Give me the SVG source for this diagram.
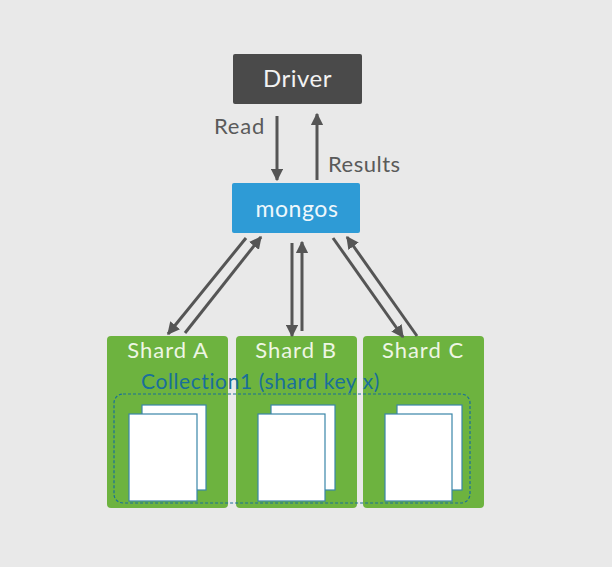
<svg xmlns="http://www.w3.org/2000/svg" width="612" height="567" viewBox="0 0 612 567">
<defs>
<marker id="ah" viewBox="0 0 10 10" refX="9" refY="5" markerWidth="4.2" markerHeight="4.2" orient="auto" markerUnits="strokeWidth">
<path d="M0,0 L10,5 L0,10 z" fill="#555555"/>
</marker>
<style>
.t{font-family:Lato,"Open Sans","Liberation Sans",sans-serif}
.shard{fill:#6db33f}
.st{fill:#eef6e4;font-size:22px;letter-spacing:1px;text-anchor:middle}
.conn line{stroke:#555555;stroke-width:3;marker-end:url(#ah)}
.page{fill:#ffffff;stroke:#3a85a8;stroke-width:1.2}
</style>
</defs>
<rect width="612" height="567" fill="#e9e9e9"/>
<g id="driver">
<rect x="233" y="54" width="129" height="50" rx="2" fill="#4a4a4a"/>
<text class="t" x="297.5" y="87" font-size="24" letter-spacing="0.5" fill="#f2f2f2" text-anchor="middle">Driver</text>
</g>
<g id="mongos">
<rect x="232" y="183" width="128" height="50" rx="2" fill="#2e9bd6"/>
<text class="t" x="297" y="217" font-size="23" letter-spacing="0.6" fill="#eef7fc" text-anchor="middle">mongos</text>
</g>
<g id="shardA">
<rect class="shard" x="107" y="336" width="121" height="172" rx="4"/>
<text class="t st" x="168" y="358">Shard A</text>
</g>
<g id="shardB">
<rect class="shard" x="236" y="336" width="121" height="172" rx="4"/>
<text class="t st" x="296" y="358">Shard B</text>
</g>
<g id="shardC">
<rect class="shard" x="363" y="336" width="121" height="172" rx="4"/>
<text class="t st" x="423" y="358">Shard C</text>
</g>
<g id="collection1">
<text class="t" x="141" y="389" font-size="21" letter-spacing="0.6" fill="#1a6f9a">Collection1 (shard key x)</text>
<rect x="114" y="394" width="356" height="109" rx="9" fill="none" stroke="#1a6f9a" stroke-width="1.2" stroke-dasharray="3,2"/>
<rect class="page" x="142" y="405" width="64" height="85"/>
<rect class="page" x="129" y="414" width="68" height="87"/>
<rect class="page" x="271" y="405" width="64" height="85"/>
<rect class="page" x="258" y="414" width="67" height="87"/>
<rect class="page" x="397" y="405" width="65" height="85"/>
<rect class="page" x="385" y="414" width="67" height="87"/>
</g>
<g id="connectors" class="conn">
<line x1="277" y1="116" x2="277" y2="180"/>
<line x1="317" y1="180" x2="317" y2="114"/>
<line x1="246" y1="238" x2="168" y2="334"/>
<line x1="185" y1="333" x2="261" y2="237"/>
<line x1="292" y1="243" x2="292" y2="336"/>
<line x1="302" y1="331" x2="302" y2="242"/>
<line x1="333" y1="238" x2="403" y2="337"/>
<line x1="417" y1="336" x2="347" y2="237"/>
</g>
<g id="labels">
<text class="t" x="214" y="134" font-size="22" letter-spacing="0.8" fill="#5a5a5a">Read</text>
<text class="t" x="328" y="172" font-size="22" letter-spacing="0.5" fill="#5a5a5a">Results</text>
</g>
</svg>
